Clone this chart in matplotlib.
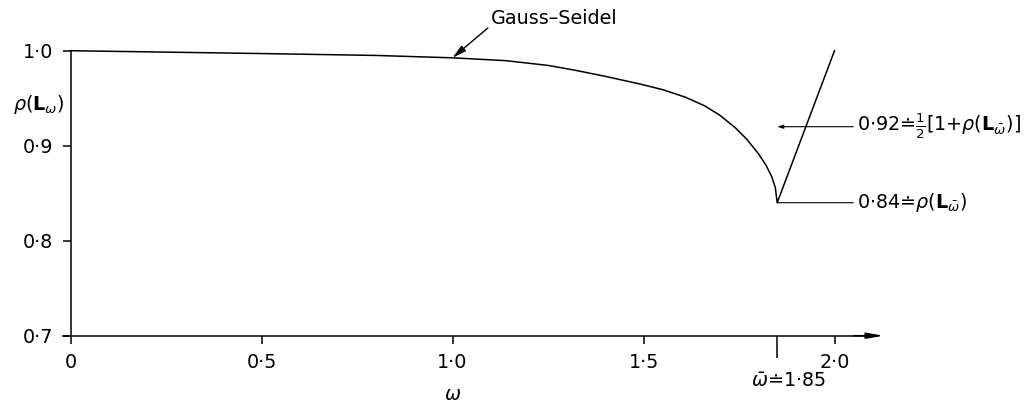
import matplotlib
matplotlib.use("Agg")
import matplotlib.pyplot as plt

plt.rcParams['font.family'] = ['DejaVu Sans']
plt.rcParams['mathtext.fontset'] = 'dejavusans'

# values
omega = [0.0, 0.5, 0.8, 1.0, 1.14, 1.25, 1.32, 1.40, 1.49, 1.55, 1.61,
         1.66, 1.70, 1.74, 1.77, 1.80, 1.82, 1.835, 1.845, 1.85, 2.0]
rho = [1.0, 0.997, 0.995, 0.9925, 0.9895, 0.9845, 0.9795, 0.973, 0.965,
       0.959, 0.951, 0.942, 0.932, 0.919, 0.907, 0.892, 0.880, 0.868,
       0.856, 0.84, 1.0]

x_ticks = [0.0, 0.5, 1.0, 1.5, 2.0]
x_labels = ["0", "0·5", "1·0", "1·5", "2·0"]
y_ticks = [0.7, 0.8, 0.9, 1.0]
y_labels = ["0·7", "0·8", "0·9", "1·0"]

gs_omega, gs_rho = 1.0, 0.9925
omega_bar = 1.85
rho_opt = 0.84
rho_half = 0.92

fs = 13.8
fig = plt.figure(figsize=(10.31, 4.03), dpi=100)
ax = fig.add_axes([0.03133, 0.0727, 0.92629, 0.8958])
ax.set_xlim(-0.1, 2.4)
ax.set_ylim(0.66, 1.04)

ax.plot(omega, rho, color='black', lw=1.1)

# axes
for s in ['top', 'right']:
    ax.spines[s].set_visible(False)
ax.spines['left'].set_position(('data', 0))
ax.spines['bottom'].set_position(('data', 0.7))
ax.spines['left'].set_bounds(0.7, 1.0)
ax.spines['bottom'].set_bounds(-0.02, 2.1)
ax.spines['left'].set_linewidth(1.1)
ax.spines['bottom'].set_linewidth(1.1)
ax.annotate('', xy=(2.128, 0.7), xytext=(2.05, 0.7),
            arrowprops=dict(arrowstyle='-|>,head_length=1.0,head_width=0.18',
                            color='black', lw=1.1, shrinkA=0, shrinkB=0),
            annotation_clip=False)

ax.set_xticks(x_ticks)
ax.set_xticklabels(x_labels, fontsize=fs)
ax.set_yticks(y_ticks)
ax.set_yticklabels(y_labels, fontsize=fs)
ax.tick_params(axis='both', direction='out', length=6, width=1.1, color='black')
ax.tick_params(axis='x', pad=6.5)
ax.tick_params(axis='y', pad=6.5)

# omega-bar tick
ax.set_xticks([omega_bar], minor=True)
ax.tick_params(axis='x', which='minor', length=16, width=1.1, direction='out')
ax.text(omega_bar + 0.03, 0.652, r'$\bar{\omega}$≐1·85', fontsize=fs,
        ha='center', va='center')

ax.text(1.0, 0.6376, r'$\omega$', fontsize=fs, ha='center', va='center')
ax.text(-0.015, 0.943, r'$\rho(\mathbf{L}_{\omega})$', fontsize=fs,
        ha='right', va='center')

# annotations
ax.annotate('Gauss–Seidel', xy=(gs_omega, gs_rho), xytext=(1.1, 1.0334),
            fontsize=fs, ha='left', va='center',
            arrowprops=dict(arrowstyle='-|>,head_length=0.6,head_width=0.15',
                            color='black', lw=1.0, shrinkA=0, shrinkB=0,
                            relpos=(0.0, 0.15)),
            annotation_clip=False)

ax.annotate(r'$0{\cdot}92{≐}\frac{1}{2}\left[1{+}\rho(\mathbf{L}_{\bar{\omega}})\right]$',
            xy=(omega_bar, rho_half), xytext=(2.06, rho_half),
            fontsize=fs, ha='left', va='center',
            arrowprops=dict(arrowstyle='-|>,head_length=0.25,head_width=0.08',
                            color='black', lw=0.8, shrinkA=1, shrinkB=0,
                            relpos=(0.0, 0.5)),
            annotation_clip=False)

ax.annotate(r'$0{\cdot}84{≐}\rho(\mathbf{L}_{\bar{\omega}})$',
            xy=(omega_bar, rho_opt), xytext=(2.06, rho_opt),
            fontsize=fs, ha='left', va='center',
            arrowprops=dict(arrowstyle='-', color='black', lw=0.8,
                            shrinkA=1, shrinkB=0, relpos=(0.0, 0.5)),
            annotation_clip=False)

fig.savefig('out.png', dpi=100)
